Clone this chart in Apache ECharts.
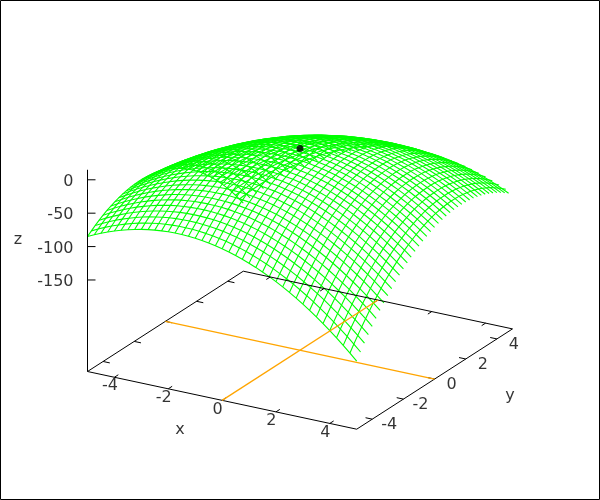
<!DOCTYPE html>
<html><head><meta charset="utf-8">
<style>html,body{margin:0;padding:0;background:#fff}#c{width:600px;height:500px}</style>
<script src="https://cdn.jsdelivr.net/npm/echarts@6/dist/echarts.min.js"></script>
</head><body><div id="c"></div>
<script>
const xTicks=[-4,-2,0,2,4];
const yTicks=[-4,-2,0,2,4];
const zTicks=[0,-50,-100,-150];
const axisNames=['x','y','z'];
const xs=[-5,-4.75,-4.5,-4.25,-4,-3.75,-3.5,-3.25,-3,-2.75,-2.5,-2.25,-2,-1.75,-1.5,-1.25,-1,-0.75,-0.5,-0.25,0,0.25,0.5,0.75,1,1.25,1.5,1.75,2,2.25,2.5,2.75,3,3.25,3.5,3.75,4,4.25,4.5,4.75,5];
const ys=[-5,-4.75,-4.5,-4.25,-4,-3.75,-3.5,-3.25,-3,-2.75,-2.5,-2.25,-2,-1.75,-1.5,-1.25,-1,-0.75,-0.5,-0.25,0,0.25,0.5,0.75,1,1.25,1.5,1.75,2,2.25,2.5,2.75,3,3.25,3.5,3.75,4,4.25,4.5,4.75,5];
const peak=[0,0,15];
// Surface heights: estimated. A smooth quadric was fitted by eye to the corners, edges and
// silhouette in the picture, since the individual dense mesh crossings cannot be read one by one.
const zGrid=[
[-85,-80.2,-75.8,-71.7,-68,-64.7,-61.8,-59.2,-57,-55.2,-53.8,-52.7,-52,-51.7,-51.8,-52.2,-53,-54.2,-55.8,-57.7,-60,-62.7,-65.8,-69.2,-73,-77.2,-81.8,-86.7,-92,-97.7,-103.8,-110.2,-117,-124.2,-131.8,-139.7,-148,-156.7,-165.8,-175.2,-185],
[-80.2,-75.3,-70.7,-66.5,-62.7,-59.3,-56.2,-53.5,-51.2,-49.3,-47.7,-46.5,-45.7,-45.3,-45.2,-45.5,-46.2,-47.3,-48.7,-50.5,-52.7,-55.3,-58.2,-61.5,-65.2,-69.3,-73.7,-78.5,-83.7,-89.3,-95.2,-101.5,-108.2,-115.3,-122.7,-130.5,-138.7,-147.3,-156.2,-165.5,-175.2],
[-75.8,-70.7,-66,-61.7,-57.8,-54.2,-51,-48.2,-45.8,-43.7,-42,-40.7,-39.8,-39.2,-39,-39.2,-39.8,-40.7,-42,-43.7,-45.8,-48.2,-51,-54.2,-57.8,-61.7,-66,-70.7,-75.8,-81.2,-87,-93.2,-99.8,-106.7,-114,-121.7,-129.8,-138.2,-147,-156.2,-165.8],
[-71.7,-66.5,-61.7,-57.3,-53.2,-49.5,-46.2,-43.3,-40.7,-38.5,-36.7,-35.3,-34.2,-33.5,-33.2,-33.3,-33.7,-34.5,-35.7,-37.3,-39.2,-41.5,-44.2,-47.3,-50.7,-54.5,-58.7,-63.3,-68.2,-73.5,-79.2,-85.3,-91.7,-98.5,-105.7,-113.3,-121.2,-129.5,-138.2,-147.3,-156.7],
[-68,-62.7,-57.8,-53.2,-49,-45.2,-41.8,-38.7,-36,-33.7,-31.8,-30.2,-29,-28.2,-27.8,-27.7,-28,-28.7,-29.8,-31.2,-33,-35.2,-37.8,-40.7,-44,-47.7,-51.8,-56.2,-61,-66.2,-71.8,-77.7,-84,-90.7,-97.8,-105.2,-113,-121.2,-129.8,-138.7,-148],
[-64.7,-59.3,-54.2,-49.5,-45.2,-41.3,-37.7,-34.5,-31.7,-29.3,-27.2,-25.5,-24.2,-23.3,-22.7,-22.5,-22.7,-23.3,-24.2,-25.5,-27.2,-29.3,-31.7,-34.5,-37.7,-41.3,-45.2,-49.5,-54.2,-59.3,-64.7,-70.5,-76.7,-83.3,-90.2,-97.5,-105.2,-113.3,-121.7,-130.5,-139.7],
[-61.8,-56.2,-51,-46.2,-41.8,-37.7,-34,-30.7,-27.8,-25.2,-23,-21.2,-19.8,-18.7,-18,-17.7,-17.8,-18.2,-19,-20.2,-21.8,-23.7,-26,-28.7,-31.8,-35.2,-39,-43.2,-47.8,-52.7,-58,-63.7,-69.8,-76.2,-83,-90.2,-97.8,-105.7,-114,-122.7,-131.8],
[-59.2,-53.5,-48.2,-43.3,-38.7,-34.5,-30.7,-27.3,-24.2,-21.5,-19.2,-17.3,-15.7,-14.5,-13.7,-13.3,-13.2,-13.5,-14.2,-15.3,-16.7,-18.5,-20.7,-23.3,-26.2,-29.5,-33.2,-37.3,-41.7,-46.5,-51.7,-57.3,-63.2,-69.5,-76.2,-83.3,-90.7,-98.5,-106.7,-115.3,-124.2],
[-57,-51.2,-45.8,-40.7,-36,-31.7,-27.8,-24.2,-21,-18.2,-15.8,-13.7,-12,-10.7,-9.8,-9.2,-9,-9.2,-9.8,-10.7,-12,-13.7,-15.8,-18.2,-21,-24.2,-27.8,-31.7,-36,-40.7,-45.8,-51.2,-57,-63.2,-69.8,-76.7,-84,-91.7,-99.8,-108.2,-117],
[-55.2,-49.3,-43.7,-38.5,-33.7,-29.3,-25.2,-21.5,-18.2,-15.3,-12.7,-10.5,-8.7,-7.3,-6.2,-5.5,-5.2,-5.3,-5.7,-6.5,-7.7,-9.3,-11.2,-13.5,-16.2,-19.3,-22.7,-26.5,-30.7,-35.3,-40.2,-45.5,-51.2,-57.3,-63.7,-70.5,-77.7,-85.3,-93.2,-101.5,-110.2],
[-53.8,-47.7,-42,-36.7,-31.8,-27.2,-23,-19.2,-15.8,-12.7,-10,-7.7,-5.8,-4.2,-3,-2.2,-1.8,-1.7,-2,-2.7,-3.8,-5.2,-7,-9.2,-11.8,-14.7,-18,-21.7,-25.8,-30.2,-35,-40.2,-45.8,-51.7,-58,-64.7,-71.8,-79.2,-87,-95.2,-103.8],
[-52.7,-46.5,-40.7,-35.3,-30.2,-25.5,-21.2,-17.3,-13.7,-10.5,-7.7,-5.3,-3.2,-1.5,-0.2,0.8,1.3,1.5,1.3,0.8,-0.2,-1.5,-3.2,-5.3,-7.7,-10.5,-13.7,-17.3,-21.2,-25.5,-30.2,-35.3,-40.7,-46.5,-52.7,-59.3,-66.2,-73.5,-81.2,-89.3,-97.7],
[-52,-45.7,-39.8,-34.2,-29,-24.2,-19.8,-15.7,-12,-8.7,-5.8,-3.2,-1,0.8,2.3,3.3,4,4.3,4.3,3.8,3,1.8,0.3,-1.7,-4,-6.7,-9.8,-13.2,-17,-21.2,-25.8,-30.7,-36,-41.7,-47.8,-54.2,-61,-68.2,-75.8,-83.7,-92],
[-51.7,-45.3,-39.2,-33.5,-28.2,-23.3,-18.7,-14.5,-10.7,-7.3,-4.2,-1.5,0.8,2.8,4.3,5.5,6.3,6.8,6.8,6.5,5.8,4.8,3.3,1.5,-0.7,-3.3,-6.2,-9.5,-13.2,-17.3,-21.7,-26.5,-31.7,-37.3,-43.2,-49.5,-56.2,-63.3,-70.7,-78.5,-86.7],
[-51.8,-45.2,-39,-33.2,-27.8,-22.7,-18,-13.7,-9.8,-6.2,-3,-0.2,2.3,4.3,6,7.3,8.3,8.8,9,8.8,8.3,7.3,6,4.3,2.3,-0.2,-3,-6.2,-9.8,-13.7,-18,-22.7,-27.8,-33.2,-39,-45.2,-51.8,-58.7,-66,-73.7,-81.8],
[-52.2,-45.5,-39.2,-33.3,-27.7,-22.5,-17.7,-13.3,-9.2,-5.5,-2.2,0.8,3.3,5.5,7.3,8.8,9.8,10.5,10.8,10.8,10.3,9.5,8.3,6.8,4.8,2.5,-0.2,-3.3,-6.7,-10.5,-14.7,-19.3,-24.2,-29.5,-35.2,-41.3,-47.7,-54.5,-61.7,-69.3,-77.2],
[-53,-46.2,-39.8,-33.7,-28,-22.7,-17.8,-13.2,-9,-5.2,-1.8,1.3,4,6.3,8.3,9.8,11,11.8,12.3,12.3,12,11.3,10.3,8.8,7,4.8,2.3,-0.7,-4,-7.7,-11.8,-16.2,-21,-26.2,-31.8,-37.7,-44,-50.7,-57.8,-65.2,-73],
[-54.2,-47.3,-40.7,-34.5,-28.7,-23.3,-18.2,-13.5,-9.2,-5.3,-1.7,1.5,4.3,6.8,8.8,10.5,11.8,12.8,13.3,13.5,13.3,12.8,11.8,10.5,8.8,6.8,4.3,1.5,-1.7,-5.3,-9.2,-13.5,-18.2,-23.3,-28.7,-34.5,-40.7,-47.3,-54.2,-61.5,-69.2],
[-55.8,-48.7,-42,-35.7,-29.8,-24.2,-19,-14.2,-9.8,-5.7,-2,1.3,4.3,6.8,9,10.8,12.3,13.3,14,14.3,14.3,13.8,13,11.8,10.3,8.3,6,3.3,0.3,-3.2,-7,-11.2,-15.8,-20.7,-26,-31.7,-37.8,-44.2,-51,-58.2,-65.8],
[-57.7,-50.5,-43.7,-37.3,-31.2,-25.5,-20.2,-15.3,-10.7,-6.5,-2.7,0.8,3.8,6.5,8.8,10.8,12.3,13.5,14.3,14.8,14.8,14.5,13.8,12.8,11.3,9.5,7.3,4.8,1.8,-1.5,-5.2,-9.3,-13.7,-18.5,-23.7,-29.3,-35.2,-41.5,-48.2,-55.3,-62.7],
[-60,-52.7,-45.8,-39.2,-33,-27.2,-21.8,-16.7,-12,-7.7,-3.8,-0.2,3,5.8,8.3,10.3,12,13.3,14.3,14.8,15,14.8,14.3,13.3,12,10.3,8.3,5.8,3,-0.2,-3.8,-7.7,-12,-16.7,-21.8,-27.2,-33,-39.2,-45.8,-52.7,-60],
[-62.7,-55.3,-48.2,-41.5,-35.2,-29.3,-23.7,-18.5,-13.7,-9.3,-5.2,-1.5,1.8,4.8,7.3,9.5,11.3,12.8,13.8,14.5,14.8,14.8,14.3,13.5,12.3,10.8,8.8,6.5,3.8,0.8,-2.7,-6.5,-10.7,-15.3,-20.2,-25.5,-31.2,-37.3,-43.7,-50.5,-57.7],
[-65.8,-58.2,-51,-44.2,-37.8,-31.7,-26,-20.7,-15.8,-11.2,-7,-3.2,0.3,3.3,6,8.3,10.3,11.8,13,13.8,14.3,14.3,14,13.3,12.3,10.8,9,6.8,4.3,1.3,-2,-5.7,-9.8,-14.2,-19,-24.2,-29.8,-35.7,-42,-48.7,-55.8],
[-69.2,-61.5,-54.2,-47.3,-40.7,-34.5,-28.7,-23.3,-18.2,-13.5,-9.2,-5.3,-1.7,1.5,4.3,6.8,8.8,10.5,11.8,12.8,13.3,13.5,13.3,12.8,11.8,10.5,8.8,6.8,4.3,1.5,-1.7,-5.3,-9.2,-13.5,-18.2,-23.3,-28.7,-34.5,-40.7,-47.3,-54.2],
[-73,-65.2,-57.8,-50.7,-44,-37.7,-31.8,-26.2,-21,-16.2,-11.8,-7.7,-4,-0.7,2.3,4.8,7,8.8,10.3,11.3,12,12.3,12.3,11.8,11,9.8,8.3,6.3,4,1.3,-1.8,-5.2,-9,-13.2,-17.8,-22.7,-28,-33.7,-39.8,-46.2,-53],
[-77.2,-69.3,-61.7,-54.5,-47.7,-41.3,-35.2,-29.5,-24.2,-19.3,-14.7,-10.5,-6.7,-3.3,-0.2,2.5,4.8,6.8,8.3,9.5,10.3,10.8,10.8,10.5,9.8,8.8,7.3,5.5,3.3,0.8,-2.2,-5.5,-9.2,-13.3,-17.7,-22.5,-27.7,-33.3,-39.2,-45.5,-52.2],
[-81.8,-73.7,-66,-58.7,-51.8,-45.2,-39,-33.2,-27.8,-22.7,-18,-13.7,-9.8,-6.2,-3,-0.2,2.3,4.3,6,7.3,8.3,8.8,9,8.8,8.3,7.3,6,4.3,2.3,-0.2,-3,-6.2,-9.8,-13.7,-18,-22.7,-27.8,-33.2,-39,-45.2,-51.8],
[-86.7,-78.5,-70.7,-63.3,-56.2,-49.5,-43.2,-37.3,-31.7,-26.5,-21.7,-17.3,-13.2,-9.5,-6.2,-3.3,-0.7,1.5,3.3,4.8,5.8,6.5,6.8,6.8,6.3,5.5,4.3,2.8,0.8,-1.5,-4.2,-7.3,-10.7,-14.5,-18.7,-23.3,-28.2,-33.5,-39.2,-45.3,-51.7],
[-92,-83.7,-75.8,-68.2,-61,-54.2,-47.8,-41.7,-36,-30.7,-25.8,-21.2,-17,-13.2,-9.8,-6.7,-4,-1.7,0.3,1.8,3,3.8,4.3,4.3,4,3.3,2.3,0.8,-1,-3.2,-5.8,-8.7,-12,-15.7,-19.8,-24.2,-29,-34.2,-39.8,-45.7,-52],
[-97.7,-89.3,-81.2,-73.5,-66.2,-59.3,-52.7,-46.5,-40.7,-35.3,-30.2,-25.5,-21.2,-17.3,-13.7,-10.5,-7.7,-5.3,-3.2,-1.5,-0.2,0.8,1.3,1.5,1.3,0.8,-0.2,-1.5,-3.2,-5.3,-7.7,-10.5,-13.7,-17.3,-21.2,-25.5,-30.2,-35.3,-40.7,-46.5,-52.7],
[-103.8,-95.2,-87,-79.2,-71.8,-64.7,-58,-51.7,-45.8,-40.2,-35,-30.2,-25.8,-21.7,-18,-14.7,-11.8,-9.2,-7,-5.2,-3.8,-2.7,-2,-1.7,-1.8,-2.2,-3,-4.2,-5.8,-7.7,-10,-12.7,-15.8,-19.2,-23,-27.2,-31.8,-36.7,-42,-47.7,-53.8],
[-110.2,-101.5,-93.2,-85.3,-77.7,-70.5,-63.7,-57.3,-51.2,-45.5,-40.2,-35.3,-30.7,-26.5,-22.7,-19.3,-16.2,-13.5,-11.2,-9.3,-7.7,-6.5,-5.7,-5.3,-5.2,-5.5,-6.2,-7.3,-8.7,-10.5,-12.7,-15.3,-18.2,-21.5,-25.2,-29.3,-33.7,-38.5,-43.7,-49.3,-55.2],
[-117,-108.2,-99.8,-91.7,-84,-76.7,-69.8,-63.2,-57,-51.2,-45.8,-40.7,-36,-31.7,-27.8,-24.2,-21,-18.2,-15.8,-13.7,-12,-10.7,-9.8,-9.2,-9,-9.2,-9.8,-10.7,-12,-13.7,-15.8,-18.2,-21,-24.2,-27.8,-31.7,-36,-40.7,-45.8,-51.2,-57],
[-124.2,-115.3,-106.7,-98.5,-90.7,-83.3,-76.2,-69.5,-63.2,-57.3,-51.7,-46.5,-41.7,-37.3,-33.2,-29.5,-26.2,-23.3,-20.7,-18.5,-16.7,-15.3,-14.2,-13.5,-13.2,-13.3,-13.7,-14.5,-15.7,-17.3,-19.2,-21.5,-24.2,-27.3,-30.7,-34.5,-38.7,-43.3,-48.2,-53.5,-59.2],
[-131.8,-122.7,-114,-105.7,-97.8,-90.2,-83,-76.2,-69.8,-63.7,-58,-52.7,-47.8,-43.2,-39,-35.2,-31.8,-28.7,-26,-23.7,-21.8,-20.2,-19,-18.2,-17.8,-17.7,-18,-18.7,-19.8,-21.2,-23,-25.2,-27.8,-30.7,-34,-37.7,-41.8,-46.2,-51,-56.2,-61.8],
[-139.7,-130.5,-121.7,-113.3,-105.2,-97.5,-90.2,-83.3,-76.7,-70.5,-64.7,-59.3,-54.2,-49.5,-45.2,-41.3,-37.7,-34.5,-31.7,-29.3,-27.2,-25.5,-24.2,-23.3,-22.7,-22.5,-22.7,-23.3,-24.2,-25.5,-27.2,-29.3,-31.7,-34.5,-37.7,-41.3,-45.2,-49.5,-54.2,-59.3,-64.7],
[-148,-138.7,-129.8,-121.2,-113,-105.2,-97.8,-90.7,-84,-77.7,-71.8,-66.2,-61,-56.2,-51.8,-47.7,-44,-40.7,-37.8,-35.2,-33,-31.2,-29.8,-28.7,-28,-27.7,-27.8,-28.2,-29,-30.2,-31.8,-33.7,-36,-38.7,-41.8,-45.2,-49,-53.2,-57.8,-62.7,-68],
[-156.7,-147.3,-138.2,-129.5,-121.2,-113.3,-105.7,-98.5,-91.7,-85.3,-79.2,-73.5,-68.2,-63.3,-58.7,-54.5,-50.7,-47.3,-44.2,-41.5,-39.2,-37.3,-35.7,-34.5,-33.7,-33.3,-33.2,-33.5,-34.2,-35.3,-36.7,-38.5,-40.7,-43.3,-46.2,-49.5,-53.2,-57.3,-61.7,-66.5,-71.7],
[-165.8,-156.2,-147,-138.2,-129.8,-121.7,-114,-106.7,-99.8,-93.2,-87,-81.2,-75.8,-70.7,-66,-61.7,-57.8,-54.2,-51,-48.2,-45.8,-43.7,-42,-40.7,-39.8,-39.2,-39,-39.2,-39.8,-40.7,-42,-43.7,-45.8,-48.2,-51,-54.2,-57.8,-61.7,-66,-70.7,-75.8],
[-175.2,-165.5,-156.2,-147.3,-138.7,-130.5,-122.7,-115.3,-108.2,-101.5,-95.2,-89.3,-83.7,-78.5,-73.7,-69.3,-65.2,-61.5,-58.2,-55.3,-52.7,-50.5,-48.7,-47.3,-46.2,-45.5,-45.2,-45.3,-45.7,-46.5,-47.7,-49.3,-51.2,-53.5,-56.2,-59.3,-62.7,-66.5,-70.7,-75.3,-80.2],
[-185,-175.2,-165.8,-156.7,-148,-139.7,-131.8,-124.2,-117,-110.2,-103.8,-97.7,-92,-86.7,-81.8,-77.2,-73,-69.2,-65.8,-62.7,-60,-57.7,-55.8,-54.2,-53,-52.2,-51.8,-51.7,-52,-52.7,-53.8,-55.2,-57,-59.2,-61.8,-64.7,-68,-71.7,-75.8,-80.2,-85]
];
// ECharts 6 core has no 3D axes: project (x,y,z) onto a hidden pixel-scaled cartesian plane.
const X0=300,Y0=350.2,XV=[26.92,5.77],YV=[15.58,-10.03],ZS=0.668,ZB=-287,ZT=15;
const P=(x,y,z)=>[X0+x*XV[0]+y*YV[0],Y0+x*XV[1]+y*YV[1]-(z-ZB)*ZS];
const line=(pts,color,width,z)=>({type:'line',data:pts,symbol:'none',silent:true,animation:false,z:z||2,
  lineStyle:{color,width},clip:false});
const series=[];
const G='#00ff00',GW=1.1;
ys.slice(0,-1).forEach((y,j)=>series.push(line(xs.map((x,i)=>P(x,y,zGrid[j][i])),G,GW,2)));
xs.slice(0,-1).forEach((x,i)=>series.push(line(ys.map((y,j)=>P(x,y,zGrid[j][i])),G,GW,2)));
const K='#000000';
series.push(line([P(-5,5,ZB),P(-5,-5,ZB),P(5,-5,ZB),P(5,5,ZB),P(-5,5,ZB)],K,1,3));
series.push(line([P(-5,-5,ZB),P(-5,-5,ZT)],K,1,3));
const T=0.25;
xTicks.forEach(x=>{series.push(line([P(x,-5,ZB),P(x,-5+T,ZB)],K,1,3));series.push(line([P(x,5,ZB),P(x,5-T,ZB)],K,1,3));});
yTicks.forEach(y=>{series.push(line([P(-5,y,ZB),P(-5+T,y,ZB)],K,1,3));series.push(line([P(5,y,ZB),P(5-T,y,ZB)],K,1,3));});
zTicks.forEach(z=>series.push(line([P(-5,-5,z),[P(-5,-5,z)[0]+8,P(-5,-5,z)[1]]],K,1,3)));
series.push(line([P(0,-5,ZB),P(0,5,ZB)],'#ffa500',1.3,4));
series.push(line([P(-5,0,ZB),P(5,0,ZB)],'#ffa500',1.3,4));
series.push({type:'scatter',data:[P(...peak)],symbol:'circle',symbolSize:7,itemStyle:{color:'#000'},silent:true,animation:false,z:5});
const font={fontFamily:'DejaVu Sans',fontSize:16,color:'#000'};
const labels=(pts,texts,offset,align)=>({type:'scatter',symbolSize:0,silent:true,animation:false,z:6,
  data:pts.map((p,i)=>({value:p,label:{show:true,formatter:String(texts[i]),position:'inside',offset,align:align||'center',verticalAlign:'middle',...font}}))});
series.push(labels(xTicks.map(x=>P(x,-5,ZB)),xTicks,[-4.5,9]));
series.push(labels(yTicks.map(y=>P(5,y,ZB)),yTicks,[17,6]));
series.push(labels(zTicks.map(z=>P(-5,-5,z)),zTicks,[-14,2],'right'));
series.push(labels([[180,430],[510,396],[18,240]],axisNames,[0,0]));
const chart=echarts.init(document.getElementById('c'),null,{renderer:'canvas'});
chart.setOption({backgroundColor:'#fff',animation:false,
 grid:{left:0,right:0,top:0,bottom:0},
 xAxis:{type:'value',min:0,max:600,show:false},
 yAxis:{type:'value',min:0,max:500,inverse:true,show:false},
 graphic:[{type:'rect',shape:{x:0.5,y:0.5,width:599,height:499},style:{fill:null,stroke:'#000',lineWidth:1},silent:true}],
 series});
</script></body></html>
